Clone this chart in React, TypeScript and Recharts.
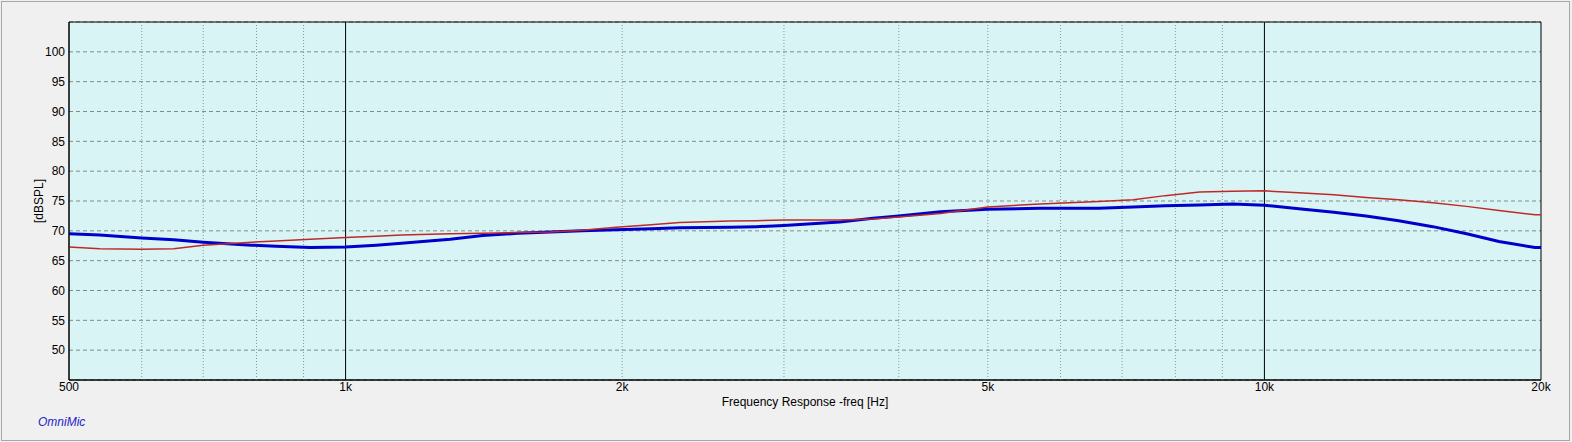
import React from "react";
import {
  LineChart,
  Line,
  XAxis,
  YAxis,
  CartesianGrid,
  ReferenceLine,
  ReferenceArea,
} from "recharts";

// frequency points (Hz), shared by both traces
const freqs = [
  500, 540, 600, 650, 700, 790, 840, 915, 1000, 1080, 1150, 1300, 1410, 1540,
  1670, 1810, 1970, 2150, 2310, 2620, 2800, 3000, 3450, 3750, 4000, 4440, 5000,
  5700, 6600, 7200, 7800, 8500, 9240, 10000, 10900, 11900, 12900, 14000, 15250,
  16600, 18000, 19700, 20000,
];

// thick blue trace (dBSPL)
const blueSpl = [
  69.5, 69.3, 68.8, 68.5, 68.1, 67.6, 67.4, 67.2, 67.3, 67.6, 67.9, 68.6, 69.2,
  69.6, 69.8, 70.0, 70.2, 70.35, 70.5, 70.6, 70.7, 70.9, 71.5, 72.1, 72.5, 73.2,
  73.6, 73.8, 73.8, 74.0, 74.2, 74.35, 74.5, 74.3, 73.7, 73.1, 72.5, 71.7, 70.7,
  69.5, 68.2, 67.2, 67.2,
];

// thin red trace (dBSPL)
const redSpl = [
  67.3, 67.0, 66.9, 67.0, 67.6, 68.1, 68.3, 68.6, 68.9, 69.1, 69.3, 69.5, 69.6,
  69.7, 69.8, 70.1, 70.6, 71.0, 71.4, 71.65, 71.7, 71.8, 71.8, 72.0, 72.3, 72.9,
  74.0, 74.5, 74.9, 75.2, 75.9, 76.5, 76.65, 76.7, 76.4, 76.05, 75.6, 75.2, 74.7,
  74.1, 73.4, 72.7, 72.7,
];

const xTicks = [500, 1000, 2000, 5000, 10000, 20000];
const yTicks = [50, 55, 60, 65, 70, 75, 80, 85, 90, 95, 100];
const minorFreqs = [600, 700, 800, 900, 2000, 3000, 4000, 5000, 6000, 7000, 8000, 9000];
const majorFreqs = [1000, 10000];

const data = freqs.map((f, i) => ({ f, blue: blueSpl[i], red: redSpl[i] }));

const fmtFreq = (v: number) => (v >= 1000 ? `${v / 1000}k` : `${v}`);

const font = '"Liberation Sans", Arial, sans-serif';

const YTitle = (props: any) => {
  const vb = props.viewBox || { x: 0, y: 22, width: 69, height: 358 };
  const cx = vb.x + 39;
  const cy = vb.y + vb.height / 2;
  return (
    <text
      x={cx}
      y={cy}
      textAnchor="middle"
      dominantBaseline="central"
      fontSize={12}
      fontFamily={font}
      fill="#000"
      transform={`rotate(-90, ${cx}, ${cy})`}
    >
      [dBSPL]
    </text>
  );
};

export default function App() {
  return (
    <div
      style={{
        position: "absolute",
        left: 0,
        top: 0,
        width: 1572,
        height: 442,
        background: "#f0f0f0",
        fontFamily: font,
      }}
    >
      <div
        style={{
          position: "absolute",
          left: 1,
          top: 1,
          width: 1569,
          height: 440,
          border: "1px solid #a8a8a8",
          boxSizing: "border-box",
        }}
      />
      <LineChart
        width={1572}
        height={442}
        data={data}
        margin={{ top: 22, right: 31, bottom: 42, left: 0 }}
      >
        <CartesianGrid
          fill="#d9f4f4"
          fillOpacity={1}
          vertical={false}
          stroke="#7f8c8c"
          strokeDasharray="4 3"
        />
        <XAxis
          dataKey="f"
          type="number"
          scale="log"
          domain={[500, 20000]}
          ticks={xTicks}
          tickFormatter={fmtFreq}
          allowDataOverflow
          height={20}
          tickLine={false}
          tickSize={0}
          tickMargin={2}
          axisLine={{ stroke: "#000" }}
          tick={{ fill: "#000", fontSize: 12, fontFamily: font }}
          label={{
            value: "Frequency Response -freq [Hz]",
            position: "bottom",
            offset: -3,
            fill: "#000",
            fontSize: 12,
            fontFamily: font,
          }}
        />
        <YAxis
          type="number"
          domain={[45, 105]}
          ticks={yTicks}
          allowDataOverflow
          width={69}
          tickLine={false}
          tickSize={4}
          tickMargin={0}
          axisLine={{ stroke: "#000" }}
          tick={{ fill: "#000", fontSize: 12, fontFamily: font }}
          label={{ content: YTitle }}
        />
        {minorFreqs.map((f) => (
          <ReferenceLine
            key={`m${f}`}
            x={f}
            stroke="#8c9696"
            strokeDasharray="1 2"
          />
        ))}
        {majorFreqs.map((f) => (
          <ReferenceLine key={`M${f}`} x={f} stroke="#000" strokeWidth={1} />
        ))}
        <ReferenceArea
          x1={500}
          x2={20000}
          y1={45}
          y2={105}
          fill="none"
          fillOpacity={0}
          stroke="#000"
          strokeWidth={1}
        />
        <Line
          type="linear"
          dataKey="blue"
          stroke="#0000cc"
          strokeWidth={3}
          dot={false}
          isAnimationActive={false}
        />
        <Line
          type="linear"
          dataKey="red"
          stroke="#c02828"
          strokeWidth={1.5}
          dot={false}
          isAnimationActive={false}
        />
      </LineChart>
      <svg
        width={1572}
        height={442}
        style={{ position: "absolute", left: 0, top: 0, pointerEvents: "none" }}
      >
        <text
          x={38}
          y={426}
          fontSize={12}
          fontStyle="italic"
          fontFamily={font}
          fill="#2424c8"
        >
          OmniMic
        </text>
      </svg>
    </div>
  );
}
